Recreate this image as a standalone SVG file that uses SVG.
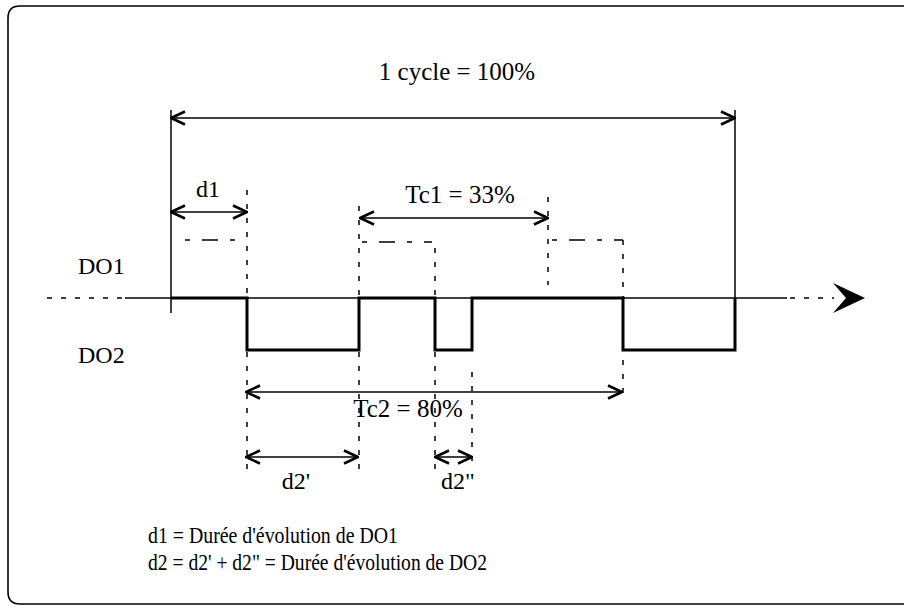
<svg xmlns="http://www.w3.org/2000/svg" width="904" height="615" viewBox="0 0 904 615">
<style>
text{font-family:"Liberation Serif","Times New Roman",serif;fill:#000}
.frame{fill:none;stroke:#000;stroke-width:1.6}
.thin{fill:none;stroke:#000;stroke-width:1.5}
.dash{fill:none;stroke:#000;stroke-width:1.5;stroke-dasharray:5 9}
.dsh{fill:none;stroke:#000;stroke-width:1.5;stroke-dasharray:5 12 16 12}
.sig{fill:none;stroke:#000;stroke-width:3;stroke-linejoin:miter}
.dim{fill:none;stroke:#000;stroke-width:1.5;marker-start:url(#ah);marker-end:url(#ah)}
</style>
<defs>
<marker id="ah" viewBox="0 0 16 16" refX="15" refY="8" markerWidth="16" markerHeight="16" markerUnits="userSpaceOnUse" orient="auto-start-reverse">
<path d="M1,1.5 L15,8 L1,14.5" fill="none" stroke="#000" stroke-width="2.6"/>
</marker>
</defs>
<path class="frame" d="M904,6 H20 Q8,6 8,18 V592 Q8,604 20,604 H904"/>
<g id="connectors">
<line class="dash" x1="47" y1="298" x2="125" y2="298"/>
<line class="thin" x1="125" y1="298" x2="787" y2="298"/>
<line class="dash" x1="790" y1="298" x2="834" y2="298"/>
<polygon points="833,283 865,298 833,313 846,298" fill="#000"/>
<line class="thin" x1="171" y1="110" x2="171" y2="313"/>
<line class="thin" x1="735" y1="110" x2="735" y2="298"/>
<polyline class="sig" points="171,298 247,298 247,350 359,350 359,298 435,298 435,350 472,350 472,298 623,298 623,350 735,350 735,298"/>
<line class="dim" x1="171" y1="118" x2="735" y2="118"/>
<line class="dim" x1="171" y1="212" x2="247" y2="212"/>
<line class="dim" x1="360" y1="218" x2="548" y2="218"/>
<line class="dim" x1="246" y1="392" x2="622" y2="392"/>
<line class="dim" x1="246" y1="457" x2="358" y2="457"/>
<line class="dim" x1="435" y1="457" x2="472" y2="457"/>
<line class="dash" x1="247" y1="190" x2="247" y2="298"/>
<line class="dash" x1="247" y1="352" x2="247" y2="470"/>
<line class="dash" x1="359" y1="206" x2="359" y2="298"/>
<line class="dash" x1="359" y1="352" x2="359" y2="470"/>
<line class="dash" x1="435" y1="248" x2="435" y2="298"/>
<line class="dash" x1="435" y1="352" x2="435" y2="470"/>
<line class="dash" x1="472" y1="372" x2="472" y2="470"/>
<line class="dash" x1="548" y1="197" x2="548" y2="285"/>
<line class="dash" x1="623" y1="240" x2="623" y2="298"/>
<line class="dash" x1="623" y1="360" x2="623" y2="395"/>
<line class="dsh" x1="185" y1="240" x2="241" y2="240"/>
<line class="dsh" x1="362" y1="242" x2="432" y2="242"/>
<line class="dsh" x1="552" y1="240" x2="623" y2="240"/>
</g>
<g id="labels">
<text x="457" y="80" font-size="25" text-anchor="middle">1 cycle = 100%</text>
<text x="208" y="197" font-size="24" text-anchor="middle">d1</text>
<text x="460" y="203" font-size="25" text-anchor="middle">Tc1 = 33%</text>
<text x="408" y="417" font-size="25" text-anchor="middle">Tc2 = 80%</text>
<text x="296" y="489" font-size="24" text-anchor="middle">d2'</text>
<text x="458" y="489" font-size="24" text-anchor="middle">d2"</text>
</g>
<g id="DO1"><text x="78" y="274" font-size="24">DO1</text></g>
<g id="DO2"><text x="78" y="363" font-size="24">DO2</text></g>
<g id="legend">
<text x="148" y="543" font-size="24" textLength="250" lengthAdjust="spacingAndGlyphs">d1 = Durée d'évolution de DO1</text>
<text x="148" y="570" font-size="24" textLength="339" lengthAdjust="spacingAndGlyphs">d2 = d2' + d2" = Durée d'évolution de DO2</text>
</g>
</svg>
